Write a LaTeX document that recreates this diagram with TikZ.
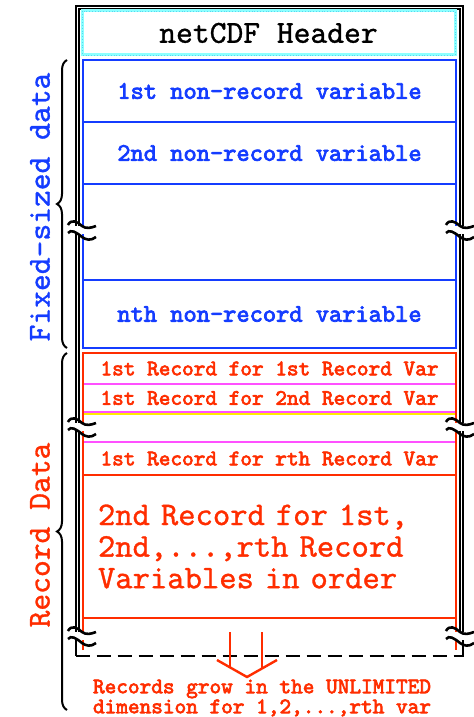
\documentclass[tikz,border=0pt]{standalone}
\usepackage{fontspec}
\usepackage{tikz}
\usetikzlibrary{decorations.pathreplacing}
\newfontfamily\plainmono{lmmono10-regular}[Extension=.otf, FakeBold=1]
\newfontfamily\heavymono{lmmono10-regular}[Extension=.otf, FakeBold=3]
\definecolor{fixblue}{RGB}{20,60,255}
\definecolor{recred}{RGB}{255,45,0}
\definecolor{recpink}{RGB}{255,80,255}
\definecolor{recyellow}{RGB}{255,235,0}
\definecolor{hdrcyan}{RGB}{140,255,255}
\definecolor{hdrdot}{RGB}{90,215,240}
\newcommand{\boxwidth}{186.5pt}
\newcommand{\bigfont}{\plainmono\fontsize{16.5}{15.8}\selectfont}
\newcommand{\rowfont}{\heavymono\fontsize{11.1}{10}\selectfont}
\tikzstyle{filebox}=[inner sep=0, outer sep=0, minimum width=\boxwidth]
\tikzstyle{fileframe}=[draw=black, double, line width=0.65pt, double distance=0.8pt]
\tikzstyle{hdrbox}=[filebox, draw=hdrcyan, line width=1.5pt, font=\plainmono\fontsize{16}{16}\selectfont]
\tikzstyle{hdrdots}=[draw=hdrdot, line width=0.4pt, densely dotted]
\tikzstyle{nrbox}=[filebox, draw=fixblue, line width=1.2pt, text=fixblue,
                   font=\heavymono\fontsize{12.6}{13}\selectfont]
\tikzstyle{recrow}=[filebox, text=recred, font=\rowfont]
\tikzstyle{recline}=[draw=recred, line width=1.2pt]
\tikzstyle{recsep}=[draw=recpink, line width=1.1pt]
\tikzstyle{sidelabel}=[rotate=90, inner sep=0, font=\plainmono\fontsize{16}{16}\selectfont]
\tikzstyle{sidebrace}=[draw=black, line width=1pt, decorate,
                       decoration={brace, amplitude=5pt, aspect=0.5}]
\tikzstyle{growline}=[draw=recred, line width=1.2pt]
% two wavy strokes that cut the frame lines
\tikzset{breakmark/.pic={
    \fill[white] (-14,-5) rectangle (14,3);
    \draw[line width=1.3pt] (-14,-6) .. controls (-11,-12) and (-5,-10) .. (0,-5)
                            .. controls (4,-2) and (9,-3) .. (14,-5);
    \draw[line width=1.3pt] (-14,2) .. controls (-11,-2) and (-6,1) .. (0,6)
                            .. controls (4,9) and (9,10) .. (14,6);
}}

\begin{document}
\begin{tikzpicture}[x=0.5pt, y=-0.5pt]
    \useasboundingbox (0,0) rectangle (474,717);
    % file outline, open at the bottom
    \draw[fileframe] (77.5,637) -- (77.5,7.5) -- (461.5,7.5) -- (461.5,637);
    \draw[line width=1.1pt] (76,637) -- (76,656);
    \draw[line width=1.1pt] (463,637) -- (463,656);
    \draw[line width=1.1pt, dash pattern=on 7pt off 3.5pt] (75.5,656) -- (463.5,656);

    \node[hdrbox, minimum height=22pt] (hdr) at (268.5,33) {netCDF Header};
    \draw[hdrdots] (hdr.north west) rectangle (hdr.south east);

    % fixed-size part
    \node[nrbox, minimum height=31pt] (nr1) at (269.5,91) {1st non-record variable};
    \node[nrbox, minimum height=31pt] (nr2) at (269.5,153) {2nd non-record variable};
    \node[nrbox, minimum height=48pt] (nrgap) at (269.5,232) {};
    \node[nrbox, minimum height=34pt] (nrn) at (269.5,314) {nth non-record variable};

    % record part
    \node[recrow, minimum height=15.5pt] (rec1) at (269.5,368.5) {1st Record for 1st Record Var};
    \node[recrow, minimum height=14pt] (rec2) at (269.5,398) {1st Record for 2nd Record Var};
    \node[recrow, minimum height=16.5pt] (recr) at (269.5,458.5) {1st Record for rth Record Var};
    \node[recrow, minimum height=71.5pt, inner xsep=7.5pt, text width=171.5pt, align=left,
          font=\bigfont] (recall) at (269.5,546.5)
          {2nd Record for 1st,\\2nd,...,rth Record\\Variables in order};

    \draw[recyellow, line width=0.6pt] ([yshift=-1pt]rec2.south west) -- ([yshift=-1pt]rec2.south east);
    \draw[recsep] (rec1.south west) -- (rec1.south east);
    \draw[recsep] (rec2.south west) -- (rec2.south east);
    \draw[recsep] (recr.north west) -- (recr.north east);
    \draw[recline] (recr.south west) -- (recr.south east);
    \draw[recline] (recall.south west) -- (recall.south east);
    \draw[recline] ([yshift=-16pt]recall.south west) -- (rec1.north west)
                   -- (rec1.north east) -- ([yshift=-16pt]recall.south east);

    % braces and side labels
    \coordinate (recbot) at (67,710);
    \draw[sidebrace] ([xshift=-8pt]nrn.south west) -- ([xshift=-8pt]nr1.north west);
    \draw[sidebrace] (recbot) -- ([xshift=-8pt]rec1.north west);
    \node[sidelabel, text=fixblue] (fixlbl) at (40,207) {Fixed-sized data};
    \node[sidelabel, text=recred] (reclbl) at (40,535) {Record Data};

    \foreach \y in {231,428,637} {
        \pic at (82,\y) {breakmark};
        \pic at (460,\y) {breakmark};
    }

    % growth arrow
    \coordinate (growa) at (230,632);
    \coordinate (growb) at (262,632);
    \coordinate (vleft) at (217,660);
    \coordinate (vtip) at (247,677);
    \coordinate (vright) at (277,660);
    \draw[growline] (growa) -- +(0,36);
    \draw[growline] (growb) -- +(0,36);
    \draw[growline] (vleft) -- (vtip) -- (vright);
    \node[recrow, align=center] (grow) at (262,698)
          {Records grow in the UNLIMITED\\dimension for 1,2,...,rth var};
\end{tikzpicture}
\end{document}
